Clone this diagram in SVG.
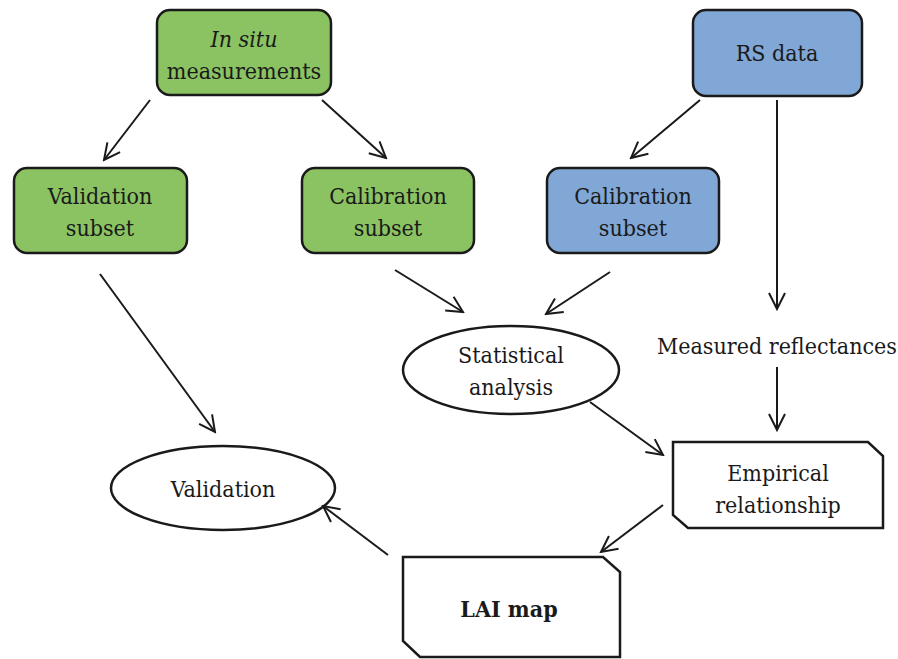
<svg xmlns="http://www.w3.org/2000/svg" width="898" height="659" viewBox="0 0 898 659">
<style>
text{font-family:'DejaVu Serif Condensed','DejaVu Serif',serif;font-stretch:condensed;font-size:23px;fill:#1a1a1a;text-anchor:middle}
.g{fill:#8bc363;stroke:#1a1a1a;stroke-width:2.5}
.b{fill:#80a7d6;stroke:#1a1a1a;stroke-width:2.5}
.w{fill:#fff;stroke:#1a1a1a;stroke-width:2.5}
.c line{stroke:#1a1a1a;stroke-width:2;marker-end:url(#ah)}
</style>
<defs>
<marker id="ah" viewBox="0 0 20 20" refX="18" refY="10" markerWidth="20" markerHeight="20" markerUnits="userSpaceOnUse" orient="auto">
<polyline points="2,2 18,10 2,18" fill="none" stroke="#1a1a1a" stroke-width="2"/>
</marker>
</defs>
<g id="insitu"><rect class="g" x="157" y="10" width="174" height="85" rx="13"/><text x="244" y="47" font-style="italic">In situ</text><text x="244" y="79">measurements</text></g>
<g id="rsdata"><rect class="b" x="693" y="10" width="169" height="86" rx="13"/><text x="777" y="61">RS data</text></g>
<g id="valsubset"><rect class="g" x="14" y="168" width="173" height="85" rx="13"/><text x="100" y="204">Validation</text><text x="100" y="236">subset</text></g>
<g id="calgreen"><rect class="g" x="302" y="168" width="172" height="85" rx="13"/><text x="388" y="204">Calibration</text><text x="388" y="236">subset</text></g>
<g id="calblue"><rect class="b" x="547" y="168" width="172" height="85" rx="13"/><text x="633" y="204">Calibration</text><text x="633" y="236">subset</text></g>
<g id="stat"><ellipse class="w" cx="511" cy="370" rx="108" ry="44"/><text x="511" y="363">Statistical</text><text x="511" y="395">analysis</text></g>
<g id="measured"><text x="777" y="354">Measured reflectances</text></g>
<g id="empirical"><polygon class="w" points="673,442 868,442 883,456 883,528 688,528 673,515"/><text x="778" y="481">Empirical</text><text x="778" y="513">relationship</text></g>
<g id="validation"><ellipse class="w" cx="223" cy="488" rx="112" ry="42"/><text x="223" y="497">Validation</text></g>
<g id="laimap"><polygon class="w" points="403,557 603,557 620,572 620,657 420,657 403,641"/><text x="509" y="617" font-weight="bold" font-size="25">LAI map</text></g>
<g class="c" id="connectors">
<line x1="150" y1="100" x2="104" y2="160"/>
<line x1="322" y1="100" x2="386" y2="158"/>
<line x1="700" y1="100" x2="631" y2="158"/>
<line x1="777" y1="100" x2="777" y2="309"/>
<line x1="100" y1="274" x2="215" y2="432"/>
<line x1="395" y1="270" x2="463" y2="312"/>
<line x1="610" y1="272" x2="546" y2="314"/>
<line x1="777" y1="367" x2="777" y2="430"/>
<line x1="590" y1="402" x2="663" y2="455"/>
<line x1="663" y1="505" x2="601" y2="552"/>
<line x1="388" y1="555" x2="323" y2="506"/>
</g>
</svg>
